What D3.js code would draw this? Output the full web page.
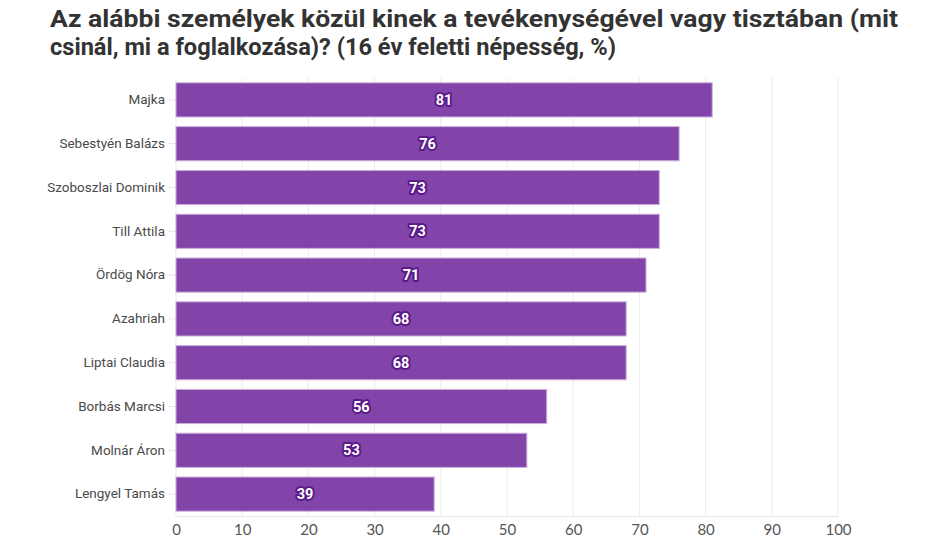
<!DOCTYPE html>
<html><head><meta charset="utf-8">
<script src="https://cdn.jsdelivr.net/npm/d3@7"></script>
<style>
body{margin:0;background:#fff;}
svg{display:block;}
</style></head>
<body>
<svg id="c" width="932" height="552"></svg>
<script>
const titleLines = ["Az alábbi személyek közül kinek a tevékenységével vagy tisztában (mit", "csinál, mi a foglalkozása)? (16 év feletti népesség, %)"];
const names = ["Majka","Sebestyén Balázs","Szoboszlai Dominik","Till Attila","Ördög Nóra","Azahriah","Liptai Claudia","Borbás Marcsi","Molnár Áron","Lengyel Tamás"];
const values = [81,76,73,73,71,68,68,56,53,39];
const xTicks = [0,10,20,30,40,50,60,70,80,90,100];

const svg = d3.select("#c");
const m = {left:176, right:838, top:78, bottom:516};
const x = d3.scaleLinear().domain([0,100]).range([m.left, m.right]);
const y = d3.scaleBand().domain(names).range([m.top, m.bottom]).paddingInner(0.22).paddingOuter(0.11);

const titleW = [848, 566];
svg.selectAll("text.title").data(titleLines).join("text")
  .attr("class","title")
  .attr("x", 50).attr("y", (d,i)=>27+i*28)
  .attr("font-family","Roboto, sans-serif").attr("font-weight","bold")
  .attr("font-size", 23.5).attr("fill","#333")
  .attr("textLength",(d,i)=>titleW[i]).attr("lengthAdjust","spacingAndGlyphs")
  .text(d=>d);

// grid
svg.append("g").selectAll("line").data(xTicks).join("line")
  .attr("x1",d=>x(d)).attr("x2",d=>x(d)).attr("y1",m.top).attr("y2",m.bottom)
  .attr("stroke","#ebebeb").attr("stroke-width",1);

// x axis
const xa = svg.append("g").attr("transform",`translate(0,${m.bottom})`)
  .call(d3.axisBottom(x).tickValues(xTicks).tickSize(0).tickPadding(8));
xa.select(".domain").attr("stroke","#e6e6e6");
xa.selectAll("text").attr("font-family","Lato, sans-serif").attr("font-size",15).attr("fill","#555");

// y axis
const ya = svg.append("g").attr("transform",`translate(${m.left},0)`)
  .call(d3.axisLeft(y).tickSize(8).tickPadding(3));
ya.select(".domain").remove();
ya.selectAll("line").attr("stroke","#e6e6e6");
ya.selectAll("text").attr("font-family","Roboto, sans-serif").attr("font-size",13.5).attr("fill","#4a4a4a");

// bars
svg.append("g").selectAll("rect").data(values).join("rect")
  .attr("x", x(0)).attr("y",(d,i)=>y(names[i]))
  .attr("width", d=>x(d)-x(0)).attr("height", y.bandwidth())
  .attr("fill","#7b3aa3").attr("fill-opacity",0.95)
  .attr("stroke","#c9b0da").attr("stroke-width",1);

// labels
svg.append("g").selectAll("text").data(values).join("text")
  .attr("x", d=>x(d/2)).attr("y",(d,i)=>y(names[i])+y.bandwidth()/2)
  .attr("dy","0.35em").attr("text-anchor","middle")
  .attr("font-family","Roboto, sans-serif").attr("font-weight","bold").attr("font-size",14.5)
  .attr("fill","#fff").attr("stroke","#5a1a8a").attr("stroke-width",4)
  .attr("stroke-linejoin","round").attr("paint-order","stroke")
  .text(d=>d);
</script>
</body></html>
